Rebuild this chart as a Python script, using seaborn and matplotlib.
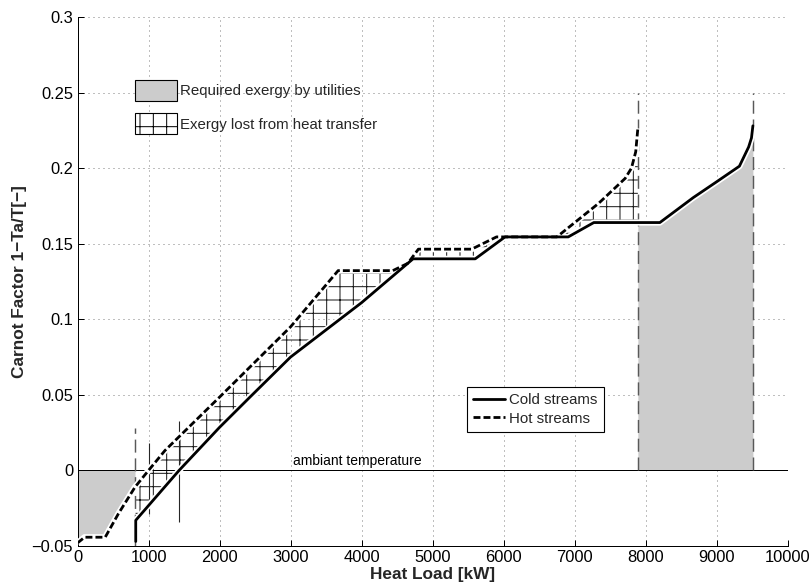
import numpy as np
import pandas as pd
import matplotlib
matplotlib.use("Agg")
import matplotlib.pyplot as plt
import seaborn as sns
from matplotlib.patches import Patch
from matplotlib.lines import Line2D

# ---------------- data ----------------
cold_x = [820, 820, 1430, 2000, 2430, 3000, 4000, 4725, 5600, 6020, 6910, 7270,
          8200, 8670, 9000, 9320, 9450, 9490, 9510]
cold_y = [-0.047, -0.033, 0.0, 0.0285, 0.0486, 0.075, 0.111, 0.14, 0.14, 0.1545,
          0.1545, 0.164, 0.164, 0.1805, 0.191, 0.2013, 0.214, 0.220, 0.228]

hot_x = [0, 100, 390, 575, 810, 1000, 1232, 2000, 3000, 3670, 4440, 4650, 4800,
         5550, 5900, 6750, 7335, 7711, 7800, 7860, 7890]
hot_y = [-0.048, -0.0442, -0.0442, -0.0287, -0.011, 0.0, 0.0132, 0.0485, 0.095,
         0.1322, 0.1322, 0.137, 0.1464, 0.1464, 0.1545, 0.1545, 0.1766, 0.1932,
         0.200, 0.2108, 0.2263]

cold_utility = [0, 810]        # kW range of required cold utility
hot_utility = [7890, 9510]     # kW range of required hot utility

marker_x = [810, 7890, 9510]   # dashed vertical markers
marker_lo = [-0.05, 0.0, 0.0]
marker_hi = [0.028, 0.25, 0.25]

edge_x = [1000, 1430]          # thin hatch edge lines
edge_lo = [-0.029, -0.034]
edge_hi = [0.018, 0.033]

x_ticks = list(range(0, 10001, 1000))
y_ticks = [-0.05, 0.0, 0.05, 0.1, 0.15, 0.2, 0.25, 0.3]
y_tick_labels = ["\u22120.05", "0", "0.05", "0.1", "0.15", "0.2", "0.25", "0.3"]

ambient_label = "ambiant temperature"
ambient_pos = (3040, 0.0033)

# ---------------- style ----------------
sns.set_theme(style="white")
plt.rcParams["font.family"] = ["Liberation Sans", "DejaVu Sans"]
plt.rcParams["hatch.linewidth"] = 0.9
plt.rcParams["hatch.color"] = "0.1"

DPI = 80
fig = plt.figure(figsize=(809 / DPI, 585 / DPI), dpi=DPI)
fig.patch.set_facecolor("white")
ax = fig.add_axes([77.5 / 809, 1 - 546 / 585, 710.2 / 809, 529 / 585])
ax.set_facecolor("white")

cx = np.array(cold_x, float)
cy = np.array(cold_y, float)
hx = np.array(hot_x, float)
hy = np.array(hot_y, float)

# required exergy by utilities (grey)
m = (hx >= cold_utility[0]) & (hx <= cold_utility[1])
ax.fill_between(hx[m], hy[m], 0, color="0.8", lw=0, zorder=1)
sel = cx > hot_utility[0]
ux = np.r_[hot_utility[0], cx[sel]]
uy = np.r_[np.interp(hot_utility[0], cx, cy), cy[sel]]
ax.fill_between(ux, uy, 0, color="0.8", lw=0, zorder=1)

# exergy lost from heat transfer (hatched)
mh = (hx >= cold_utility[1]) & (hx <= hot_utility[0])
mc = (cx <= hot_utility[0])
mc[0] = False
px = np.r_[hx[mh], hot_utility[0], cx[mc][::-1]]
py = np.r_[hy[mh], np.interp(hot_utility[0], cx, cy), cy[mc][::-1]]
ax.fill(px, py, facecolor="none", edgecolor="0.1", hatch="+", lw=0, zorder=1.5)

ax.vlines(edge_x, edge_lo, edge_hi, colors="0.15", lw=1.0, zorder=1.6)

# ambient temperature line
ax.axhline(0, color="black", lw=0.9, zorder=2)
ax.text(ambient_pos[0], ambient_pos[1], ambient_label, fontsize=12.5,
        ha="left", va="baseline", color="black", zorder=6)

# vertical dashed markers
ax.vlines(marker_x, marker_lo, marker_hi, colors="0.35", lw=1.3,
          linestyles=[(0, (9, 4))], zorder=2.5)

# white halos under curves
ax.plot(cx, cy, color="white", lw=5.6, zorder=3, solid_capstyle="butt")
ax.plot(hx, hy, color="white", lw=5.6, zorder=3, solid_capstyle="butt")

df_cold = pd.DataFrame({"x": cx, "y": cy})
df_hot = pd.DataFrame({"x": hx, "y": hy})
sns.lineplot(data=df_cold, x="x", y="y", ax=ax, sort=False, estimator=None,
             color="black", lw=2.5, zorder=5, legend=False)
sns.lineplot(data=df_hot, x="x", y="y", ax=ax, sort=False, estimator=None,
             color="black", lw=2.5, linestyle=(0, (2.5, 1.1)), zorder=5, legend=False)

# axes
ax.set_xlim(0, 10000)
ax.set_ylim(-0.05, 0.3)
ax.set_xticks(x_ticks)
ax.set_xticklabels([str(t) for t in x_ticks])
ax.set_yticks(y_ticks)
ax.set_yticklabels(y_tick_labels)
ax.tick_params(axis="both", direction="in", length=5, width=0.9, labelsize=14.8,
               colors="black", pad=4, bottom=True, left=True, top=False, right=False)
ax.grid(True, linestyle=(0, (1, 4)), color="0.5", lw=0.9)
ax.set_axisbelow(True)
for s in ["top", "right"]:
    ax.spines[s].set_visible(False)
for s in ["left", "bottom"]:
    ax.spines[s].set_color("black")
    ax.spines[s].set_linewidth(0.9)

ax.set_xlabel("Heat Load [kW]", fontsize=15.5, fontweight="bold", labelpad=1)
ax.set_ylabel("Carnot Factor 1\u2212Ta/T[\u2212]", fontsize=15.5, fontweight="bold", labelpad=4)

# legends
h1 = [Patch(facecolor="0.8", edgecolor="black", lw=1.0),
      Patch(facecolor="white", edgecolor="black", hatch="+", lw=1.0)]
leg1 = ax.legend(h1, ["Required exergy by utilities", "Exergy lost from heat transfer"],
                 loc="upper left", bbox_to_anchor=((135 - 77.5) / 710.2, (546 - 80) / 529),
                 frameon=False, fontsize=13.5, handlelength=2.8, handleheight=1.75,
                 handletextpad=0.2, labelspacing=0.85, borderpad=0, borderaxespad=0)
ax.add_artist(leg1)

h2 = [Line2D([], [], color="black", lw=2.5),
      Line2D([], [], color="black", lw=2.5, linestyle=(0, (2.5, 1.1)))]
leg2 = ax.legend(h2, ["Cold streams", "Hot streams"], loc="lower left",
                 bbox_to_anchor=((466.7 - 77.5) / 710.2, (546 - 431.7) / 529),
                 frameon=True, fancybox=False, framealpha=1, edgecolor="black",
                 fontsize=13.5, handlelength=2.15, handletextpad=0.3,
                 labelspacing=0.3, borderpad=0.4, borderaxespad=0)
leg2.get_frame().set_linewidth(1.0)
leg2.set_zorder(10)

fig.savefig("out.png", dpi=DPI, facecolor="white")
